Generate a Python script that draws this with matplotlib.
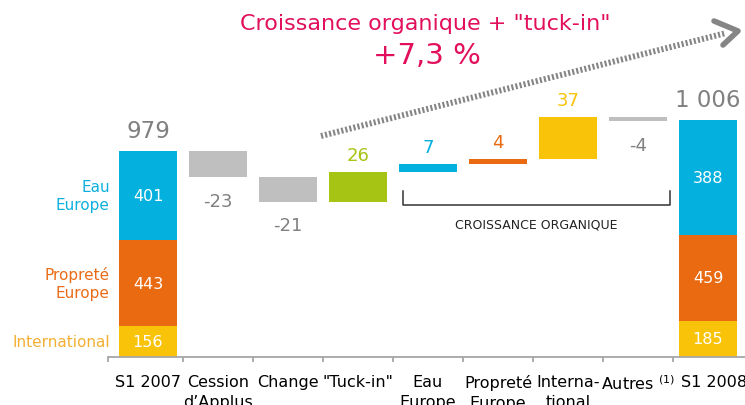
import numpy as np
import matplotlib.pyplot as plt
import matplotlib.transforms as mtransforms

# données
categories = ['S1 2007', 'Cession\nd’Applus', 'Change', '"Tuck-in"', 'Eau\nEurope',
              'Propreté\nEurope', 'Interna-\ntional', 'Autres $^{(1)}$', 'S1 2008']
segments = ['International', 'Propreté\nEurope', 'Eau\nEurope']
s1_2007 = [156, 443, 401]
s1_2008 = [185, 459, 388]
total_2007 = 979
total_2008 = 1006
deltas = [-23, -21, 26, 7, 4, 37, -4]

# couleurs
BLUE, ORANGE, YELLOW = '#04B0DD', '#EA6A12', '#F9C30A'
GREY, GREEN = '#BFBFBF', '#A6C414'
seg_colors = [YELLOW, ORANGE, BLUE]
seg_label_colors = ['#F3B033', '#EA6B16', '#0BB0DE']
delta_colors = [GREY, GREY, GREEN, BLUE, ORANGE, YELLOW, GREY]
delta_text = ['#808080', '#808080', GREEN, BLUE, ORANGE, YELLOW, '#808080']
TXT_GREY = '#808080'
PINK = '#E2105C'

# échelle cassée (en pixels au-dessus de la base) : le haut est dilaté
V_KNOTS = [-1000, 0, 600, 930, 1500]
P_KNOTS = [-200, 0, 120, 149.6, 149.6 + 570 * 1.15]


def forward(v):
    return np.interp(np.asarray(v, float), V_KNOTS, P_KNOTS)


def inverse(p):
    return np.interp(np.asarray(p, float), P_KNOTS, V_KNOTS)


W, H = 745, 406
fig = plt.figure(figsize=(W / 100, H / 100), dpi=100)
ax = fig.add_axes([0, 0, 1, 1])
ax.set_yscale('function', functions=(forward, inverse))
ax.set_ylim(float(inverse(-48)), float(inverse(358)))
ax.set_xlim(-148 / 70, (W - 148) / 70)

bw = 0.83


def stacked(x, vals, total, side_labels):
    vals = np.array(vals, float)
    drawn = vals / vals.sum() * total
    bottom = 0.0
    for i, (v, d) in enumerate(zip(vals, drawn)):
        ax.bar(x, d, bottom=bottom, width=bw, color=seg_colors[i], linewidth=0)
        mid = float(inverse((forward(bottom) + forward(bottom + d)) / 2))
        ax.text(x, mid, f'{int(v)}', color='white', ha='center', va='center', fontsize=11.5)
        if side_labels:
            ax.text(x - bw / 2 - 0.13, mid, segments[i], color=seg_label_colors[i],
                    ha='right', va='center', fontsize=11, linespacing=1.2)
        bottom += d
    ax.annotate(f'{total:,}'.replace(',', ' '), (x, total), xytext=(0, 15),
                textcoords='offset points', ha='center', va='center',
                fontsize=16.5, color=TXT_GREY)


stacked(0, s1_2007, total_2007, True)
stacked(8, s1_2008, total_2008, False)

# cascade
ends = total_2007 + np.cumsum(deltas)
starts = np.concatenate([[total_2007], ends[:-1]])
for i, d in enumerate(deltas):
    x = i + 1
    lo, hi = min(starts[i], ends[i]), max(starts[i], ends[i])
    ax.bar(x, hi - lo, bottom=lo, width=bw, color=delta_colors[i], linewidth=0)
    if d > 0:
        ax.annotate(str(d), (x, hi), xytext=(0, 12), textcoords='offset points',
                    ha='center', va='center', fontsize=13, color=delta_text[i])
    else:
        ax.annotate(str(d), (x, lo), xytext=(0, -17), textcoords='offset points',
                    ha='center', va='center', fontsize=13, color=delta_text[i])

# axe
for s in ['left', 'right', 'top']:
    ax.spines[s].set_visible(False)
ax.spines['bottom'].set_position(('data', 0))
ax.spines['bottom'].set_bounds(-0.57, 8.55)
ax.spines['bottom'].set_color('#A6A6A6')
ax.spines['bottom'].set_linewidth(1.3)
ax.set_yticks([])
ax.set_xticks(range(len(categories)), categories)
ax.set_xticks([-0.57] + [i + 0.5 for i in range(8)], minor=True)
ax.tick_params(axis='x', which='major', length=0, pad=12, labelsize=11.5, colors='black')
ax.tick_params(axis='x', which='minor', length=3.5, width=1.3, color='#A6A6A6', direction='out')
labels = ax.get_xticklabels()
for t in labels:
    t.set_linespacing(1.45)
labels[-1].set_transform(labels[-1].get_transform() +
                         mtransforms.ScaledTranslation(0.06, 0, fig.dpi_scale_trans))

# accolade croissance organique
trans = mtransforms.blended_transform_factory(ax.transData, ax.transAxes)
yb, yt = 1 - 206 / H, 1 - 192 / H
ax.plot([3.64, 3.64, 7.46, 7.46], [yt, yb, yb, yt], transform=trans,
        color='#333333', lw=1.1, clip_on=False)
ax.text(5.55, 1 - 225 / H, 'CROISSANCE ORGANIQUE', transform=trans,
        ha='center', va='center', fontsize=9, color='#222222')

# titre
fig.text(425 / W, 1 - 24 / H, 'Croissance organique + "tuck-in"', ha='center', va='center',
         fontsize=16, color=PINK)
fig.text(427 / W, 1 - 56 / H, '+7,3 %', ha='center', va='center', fontsize=21, color=PINK)


# flèche pointillée
def px(x, y):
    return x / W, 1 - y / H


x0, y0 = px(321, 137)
x1, y1 = px(726, 34)
fig.add_artist(plt.Line2D([x0, x1], [y0, y1], transform=fig.transFigure, color='#858585',
                          lw=4.3, linestyle=(0, (0.35, 0.35)), dash_capstyle='butt'))
ax_, ay_ = px(714, 22)
tx, ty = px(738, 32)
bx, by = px(723, 46)
fig.add_artist(plt.Line2D([ax_, tx, bx], [ay_, ty, by], transform=fig.transFigure,
                          color='#858585', lw=4, solid_capstyle='round',
                          solid_joinstyle='round'))

fig.savefig('out.png', dpi=100)
